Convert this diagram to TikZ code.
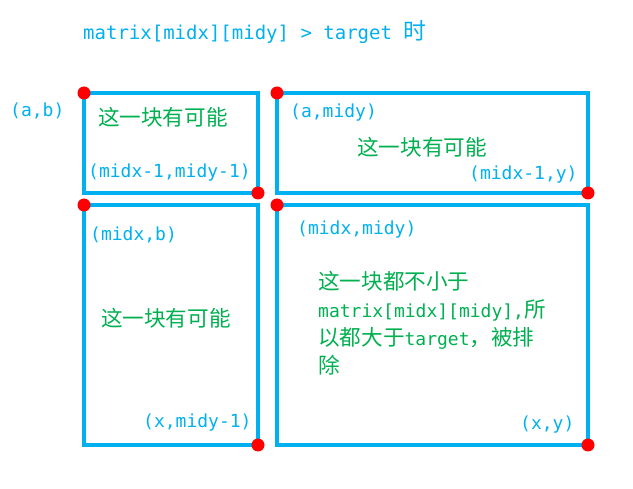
\documentclass[tikz,border=0pt]{standalone}
\usepackage{fontspec}
\setmainfont{DejaVu Sans Mono}
\newfontfamily\cjk{Noto Sans CJK SC}[Scale=1.2]
\definecolor{lblue}{RGB}{0,176,240}
\definecolor{lgreen}{RGB}{0,176,80}
\begin{document}
\begin{tikzpicture}[x=1pt, y=-1pt,
  box/.style={draw=lblue, line width=3.5pt},
  lbl/.style={text=lblue, anchor=west, inner sep=0pt, font=\fontsize{18}{20}\selectfont},
  note/.style={text=lgreen, anchor=west, inner sep=0pt, font=\fontsize{18}{28}\selectfont}]
 \useasboundingbox (0,0) rectangle (633,489);

 % corners of the four blocks
 \coordinate (tl1) at (84,93);   \coordinate (br1) at (258,193);
 \coordinate (tl2) at (277,93);  \coordinate (br2) at (588,193);
 \coordinate (tl3) at (84,205);  \coordinate (br3) at (258,445);
 \coordinate (tl4) at (277,205); \coordinate (br4) at (588,445);

 \foreach \i in {1,...,4}
   \draw[box] (tl\i) rectangle (br\i);
 \foreach \c in {tl1,br1,tl2,br2,tl3,br3,tl4,br4}
   \fill[red] (\c) circle (6.5);

 \node[lbl, font=\fontsize{19}{22}\selectfont] (title) at (83,32) {matrix[midx][midy] > target {\cjk 时}};
 \node[lbl] (ab) at (10,111) {(a,b)};

 \node[note] (n1) at (98,117) {\cjk 这一块有可能};
 \node[lbl] (c1) at (88,173) {(midx-1,midy-1)};

 \node[lbl] (a2) at (290,113) {(a,midy)};
 \node[note] (n2) at (357,147) {\cjk 这一块有可能};
 \node[lbl] (c2) at (469,175) {(midx-1,y)};

 \node[lbl] (a3) at (90,235) {(midx,b)};
 \node[note] (n3) at (101,318) {\cjk 这一块有可能};
 \node[lbl] (c3) at (143,423) {(x,midy-1)};

 \node[lbl] (a4) at (297,230) {(midx,midy)};
 \node[note, anchor=north west, align=left] (n4) at (318,271)
   {{\cjk 这一块都不小于}\\matrix[midx][midy],{\cjk 所}\\{\cjk 以都大于}target{\cjk ，被排}\\{\cjk 除}};
 \node[lbl] (c4) at (520,425) {(x,y)};
\end{tikzpicture}
\end{document}
